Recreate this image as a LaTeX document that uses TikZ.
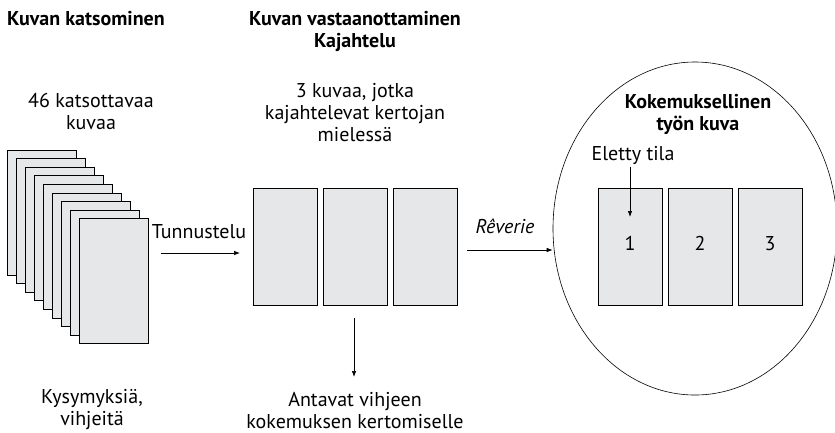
\documentclass[tikz,border=0pt]{standalone}
\usepackage{fontspec}
\setmainfont{PT Sans}
\usetikzlibrary{arrows.meta,shapes.geometric}

\definecolor{cardgray}{HTML}{E6E7E8}

\tikzset{
	card/.style={rectangle, draw, line width=0.8pt, fill=cardgray, inner sep=0pt, minimum width=69pt, minimum height=125pt},
	box/.style={rectangle, draw, line width=0.8pt, fill=cardgray, inner sep=0pt, minimum width=64pt, minimum height=117pt, text height=14pt, text depth=6pt, font=\fontsize{20}{22}\selectfont},
	title/.style={font=\fontsize{20}{22}\selectfont\bfseries, align=center, inner sep=0pt},
	label/.style={font=\fontsize{20}{22}\selectfont, align=center, inner sep=0pt},
	arr/.style={-{Latex[length=6pt,width=4.5pt]}, line width=0.7pt}
}

\begin{document}
\begin{tikzpicture}[x=1pt, y=-1pt]
			\useasboundingbox (0,0) rectangle (835,432);

			% otsikot
			\node[title, anchor=base west] (t1) at (7, 25) {Kuvan katsominen};
			\node[title] (t2) at (355, 31) {Kuvan vastaanottaminen\\Kajahtelu};

			% katsottavat kuvat
			\node[label] (n46) at (91, 111) {46 katsottavaa\\kuvaa};
			\node[card] (k1) at (41.5, 212.5) {};
			\node[card] (k2) at (50.5, 221.1) {};
			\node[card] (k3) at (59.5, 229.7) {};
			\node[card] (k4) at (68.5, 238.3) {};
			\node[card] (k5) at (77.5, 246.9) {};
			\node[card] (k6) at (86.5, 255.5) {};
			\node[card] (k7) at (95.5, 264.1) {};
			\node[card] (k8) at (104.5, 272.7) {};
			\node[card] (k9) at (113.5, 281.3) {};
			\node[label] (kys) at (92, 410) {Kysymyksiä,\\vihjeitä};

			% kolme kuvaa
			\node[label] (n3) at (355, 113) {3 kuvaa, jotka\\kajahtelevat kertojan\\mielessä};
			\node[box] (A) at (285, 246.5) {};
			\node[box] (B) at (355, 246.5) {};
			\node[box] (C) at (425, 246.5) {};
			\node[label] (ant) at (355, 410) {Antavat vihjeen\\kokemuksen kertomiselle};

			% kokemuksellinen kuva
			\node[ellipse, draw, line width=0.6pt, inner sep=0pt, minimum width=284pt, minimum height=333pt] (E) at (695, 228.5) {};
			\node[title] (kok) at (698, 114) {Kokemuksellinen\\työn kuva};
			\node[label, anchor=base] (el) at (633, 160) {Eletty tila};
			\node[box] (D) at (630, 246.5) {1};
			\node[box] (F) at (700, 246.5) {2};
			\node[box] (G) at (770, 246.5) {3};

			% nuolet
			\coordinate (p1) at (161, 253);
			\coordinate (p2) at (240, 253);
			\draw[arr] (p1) -- (p2);
			\node[label, anchor=base] (tun) at (199, 238) {Tunnustelu};
			\coordinate (p3) at (467, 250);
			\draw[arr] (p3) -- (E.west |- p3);
			\node[label, anchor=base, font=\fontsize{20}{22}\selectfont\itshape] (rev) at (505, 233) {Rêverie};
			\coordinate (p4) at (354, 318);
			\coordinate (p5) at (354, 377);
			\draw[arr] (p4) -- (p5);
			\coordinate (p6) at (630, 217);
			\draw[arr] (630, 167) -- (p6);

		\end{tikzpicture}
\end{document}
